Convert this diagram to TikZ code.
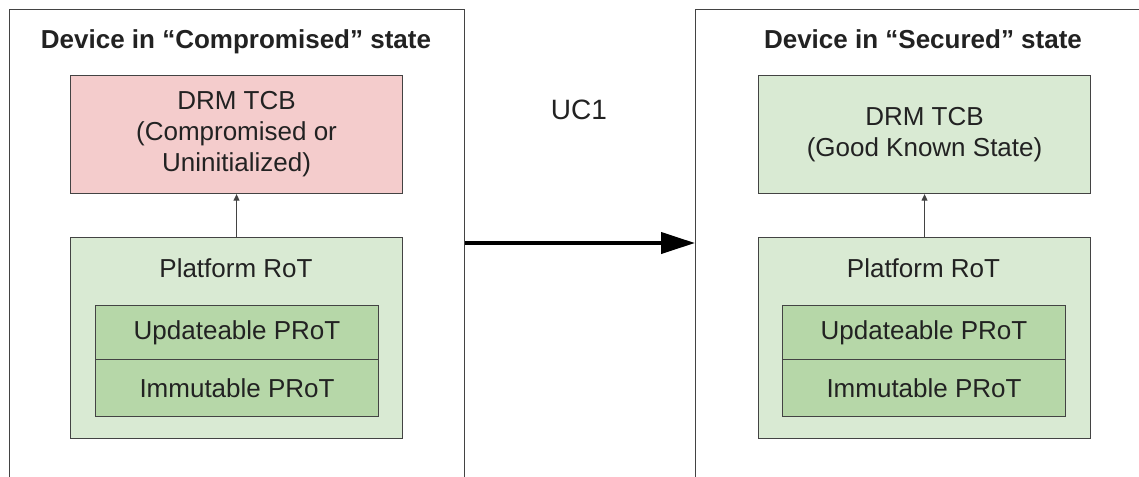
\documentclass[tikz,border=0pt]{standalone}
\usepackage{fontspec}
\setmainfont{Liberation Sans}
\usetikzlibrary{arrows.meta}
\definecolor{edge}{HTML}{434343}
\definecolor{ink}{HTML}{222222}
\definecolor{badfill}{HTML}{F4CCCC}
\definecolor{okfill}{HTML}{D9EAD3}
\definecolor{protfill}{HTML}{B6D7A8}
\tikzset{
  x=0.75pt, y=-0.75pt,
  device/.style={draw=edge, line width=1pt, anchor=north west, inner sep=0pt,
    minimum width=#1*0.75pt, minimum height=520*0.75pt},
  titletext/.style={font=\fontsize{19.5}{23}\selectfont\bfseries, text=ink, inner sep=0pt, anchor=base},
  plaintext/.style={font=\fontsize{19.5}{23.3}\selectfont, text=ink, inner sep=0pt, align=center},
  tcbbox/.style={draw=edge, line width=0.8pt, anchor=north west, inner sep=0pt,
    minimum width=332*0.75pt, minimum height=118*0.75pt,
    font=\fontsize{19.5}{23.3}\selectfont, text=ink, align=center},
  rotbox/.style={draw=edge, line width=0.8pt, fill=okfill, anchor=north west, inner sep=0pt,
    minimum width=332*0.75pt, minimum height=201*0.75pt},
  protbox/.style={draw=edge, line width=0.8pt, fill=protfill, anchor=north west, inner sep=0pt,
    minimum width=283*0.75pt, minimum height=#1*0.75pt,
    font=\fontsize{19.5}{23.3}\selectfont, text=ink},
  link/.style={draw=edge, line width=0.8pt, -{Triangle[length=5pt,width=4.5pt]}},
  transition/.style={draw=black, line width=3pt, -{Triangle[length=25.5pt,width=15.75pt]}}
}
\begin{document}
\begin{tikzpicture}
\useasboundingbox (0,0) rectangle (1139,476);
\clip (0,0) rectangle (1139,476);
\fill[white] (0,0) rectangle (1139,476);

% outer device frames (open at the bottom edge of the page)
\node[device=455] (leftdev) at (9,9) {};
\node[device=500] (rightdev) at (695,9) {};

% left device: compromised
\node[titletext] (lefttitle) at (236,48) {Device in “Compromised” state};
\node[tcbbox, fill=badfill] (lefttcb) at (70,75) {DRM TCB\\(Compromised or\\Uninitialized)};
\node[rotbox] (leftrot) at (70,237) {};
\node[plaintext] (leftrotlabel) at (236,268) {Platform RoT};
\node[protbox=54] (leftupd) at (95,305) {Updateable PRoT};
\node[protbox=57] (leftimm) at (95,359) {Immutable PRoT};
\draw[link] (leftrot.north) -- (lefttcb.south);

% right device: secured
\node[titletext] (righttitle) at (923,48) {Device in “Secured” state};
\node[tcbbox, fill=okfill] (righttcb) at (758,75) {DRM TCB\\(Good Known State)};
\node[rotbox] (rightrot) at (758,237) {};
\node[plaintext] (rightrotlabel) at (923.5,268) {Platform RoT};
\node[protbox=54] (rightupd) at (782,305) {Updateable PRoT};
\node[protbox=57] (rightimm) at (782,359) {Immutable PRoT};
\draw[link] (rightrot.north) -- (righttcb.south);

% transition between the two states
\node[plaintext, font=\fontsize{21}{25}\selectfont] (uclabel) at (579,110) {UC1};
\coordinate (arrowrow) at (579,243);
\draw[transition] (leftdev.east |- arrowrow) -- (rightdev.west |- arrowrow);
\end{tikzpicture}
\end{document}
